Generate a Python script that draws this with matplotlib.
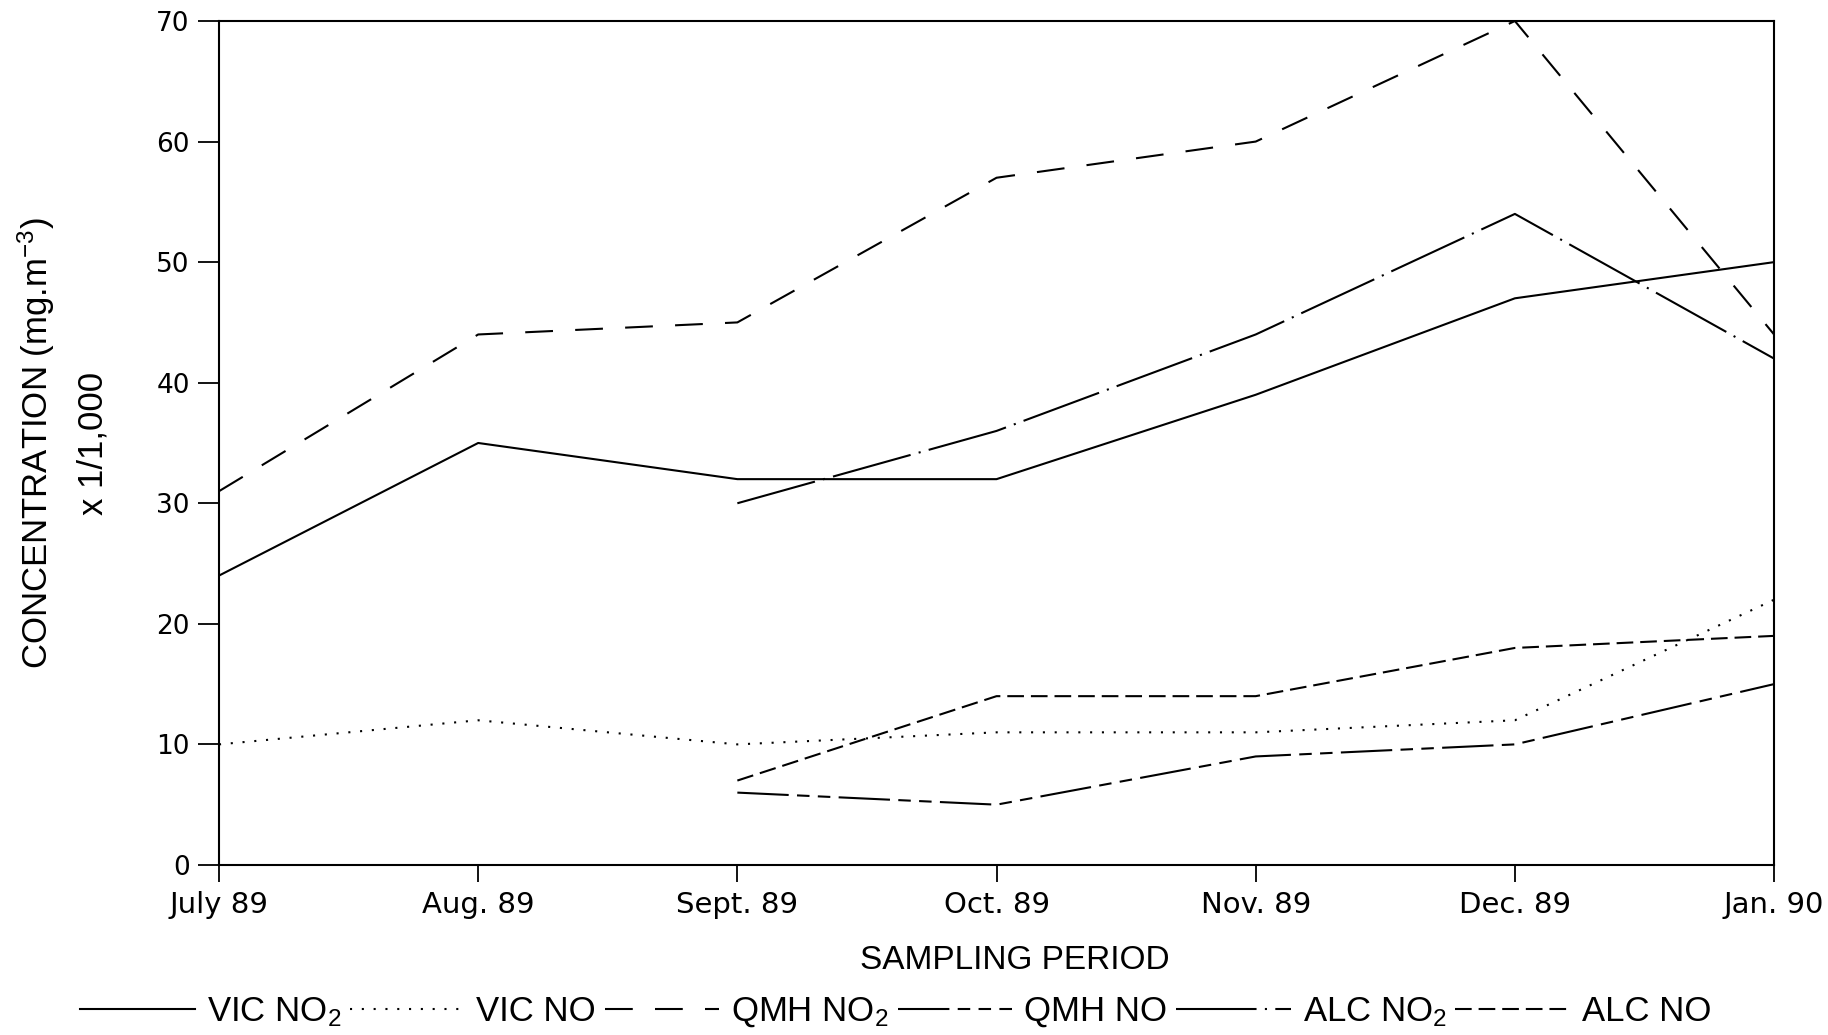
import numpy as np
import matplotlib
matplotlib.use("Agg")
import matplotlib.pyplot as plt

# sampling months
months = ["July 89", "Aug. 89", "Sept. 89", "Oct. 89", "Nov. 89", "Dec. 89", "Jan. 90"]

# concentrations (mg.m-3 x 1/1,000)
vicNO2 = [24, 35, 32, 32, 39, 47, 50]
vicNO = [10, 12, 10, 11, 11, 12, 22]
qmhNO2 = [31, 44, 45, 57, 60, 70, 44]
qmhNO = [np.nan, np.nan, 6, 5, 9, 10, 15]
alcNO2 = [np.nan, np.nan, 30, 36, 44, 54, 42]
alcNO = [np.nan, np.nan, 7, 14, 14, 18, 19]

yTicks = [0, 10, 20, 30, 40, 50, 60, 70]

labelFont = ["Liberation Sans", "DejaVu Sans"]
plt.rcParams["font.family"] = labelFont
plt.rcParams["mathtext.fontset"] = "custom"
plt.rcParams["mathtext.rm"] = "Liberation Sans"
plt.rcParams["mathtext.it"] = "Liberation Sans"
plt.rcParams["lines.scale_dashes"] = False

fig = plt.figure(figsize=(18.28, 10.35), dpi=100)
ax = fig.add_axes([0.1198, 0.1643, 0.8507, 0.8154])

x = np.arange(len(months))
lw = 1.5
ax.plot(x, vicNO2, color="black", lw=lw, label="VIC NO$_2$")
ax.plot(x, vicNO, color="black", lw=lw, linestyle=(0, (1.5, 7)), label="VIC NO")
ax.plot(x, qmhNO2, color="black", lw=lw, linestyle=(0, (20, 16)), label="QMH NO$_2$")
ax.plot(x, qmhNO, color="black", lw=lw, linestyle=(0, (37, 6, 9, 6, 9, 6)), label="QMH NO")
ax.plot(x, alcNO2, color="black", lw=lw, linestyle=(0, (58, 6, 1.5, 6)), label="ALC NO$_2$")
ax.plot(x, alcNO, color="black", lw=lw, linestyle=(0, (12, 5)), label="ALC NO")

ax.set_xlim(0, 6)
ax.set_ylim(0, 70)
ax.set_xticks(x)
ax.set_xticklabels(months, fontsize=21, family="DejaVu Sans")
ax.set_yticks(yTicks)
ax.set_yticklabels([str(t) for t in yTicks], fontsize=19, family="DejaVu Sans")
ax.tick_params(axis="y", direction="out", length=15, width=1.3, pad=6)
ax.tick_params(axis="x", direction="out", length=12, width=1.3, pad=7)
for s in ax.spines.values():
    s.set_linewidth(1.5)

ax.set_xlabel("SAMPLING PERIOD", fontsize=24, labelpad=18)
ax.xaxis.set_label_coords(0.512, -0.095)
fig.text(0.034, 0.164 + 0.8154 / 2, "CONCENTRATION (mg.m$^{-3}$)\nx 1/1,000",
         rotation=90, ha="center", va="center", multialignment="center",
         fontsize=25, linespacing=1.75)

fig.legend(loc="center", bbox_to_anchor=(0.49, 0.022), ncol=6, frameon=False,
           fontsize=25, handlelength=3.3, columnspacing=0.25, handletextpad=0.35)

fig.savefig("out.png", dpi=100)
